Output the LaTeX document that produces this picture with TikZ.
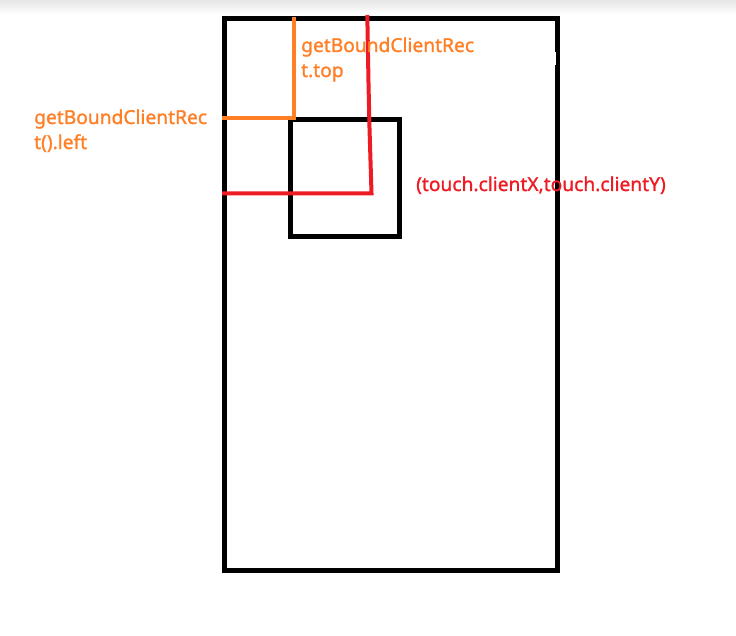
\documentclass[tikz,border=0pt]{standalone}
\usepackage{fontspec}
\setmainfont{Noto Sans}
\newfontfamily\lblfont{Noto Sans}[FakeBold=1.3]
\usepackage{tikz}
\usetikzlibrary{positioning}
\definecolor{paintorange}{RGB}{255,127,39}
\definecolor{paintred}{RGB}{237,28,36}
\tikzset{
	frame/.style = {draw=black, line width=5pt},
	oline/.style = {draw=paintorange, line width=4pt},
	rline/.style = {draw=paintred, line width=4pt},
	lbl/.style = {inner sep=0pt, anchor=base west, align=left, font=\lblfont\fontsize{19.2}{25}\selectfont},
}
\begin{document}
\begin{tikzpicture}[x=1pt, y=-1pt]
	\useasboundingbox (0,0) rectangle (736,636);
	\shade[top color=black!10, bottom color=white] (0,0) rectangle (736,14);
	% outer box and inner box
	\draw[frame] (224.5,19) rectangle (557,570.5);
	\draw[frame] (290.5,120) rectangle (399,237);
	\fill[white] (553,52) rectangle (556,65);
	% orange: getBoundClientRect offsets
	\coordinate (otop) at (293.5,17);
	\coordinate (ocorner) at (293.5,118);
	\coordinate (oleft) at (222,118);
	\draw[oline] (otop) -- (ocorner) -- (oleft);
	% red: touch point
	\coordinate (rtop) at (367.3,15);
	\coordinate (touch) at (371.5,193.3);
	\coordinate (rleft) at (222,193.3);
	\draw[rline] (rtop) -- (368.5,83) -- (369.5,128) -- (touch) -- (rleft);
	\node[lbl, text=paintorange] (toplbl) at (301,77) {getBoundClientRec\\t.top};
	\node[lbl, text=paintorange] (leftlbl) at (34,149) {getBoundClientRec\\t().left};
	\node[lbl, text=paintred] (touchlbl) at (416,191) {(touch.clientX,touch.clientY)};
\end{tikzpicture}
\end{document}
